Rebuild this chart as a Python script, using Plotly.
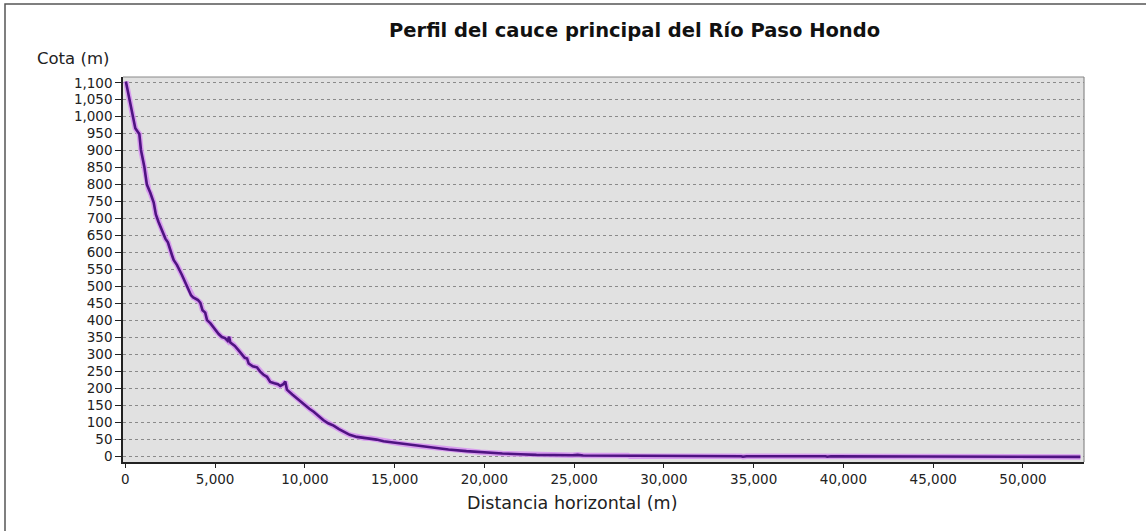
import plotly.graph_objects as go

# Longitudinal profile of the main channel (distance in m, elevation in m)
distancia = [
    30, 240, 460, 555, 700, 780, 870, 1060, 1200, 1300, 1390, 1580, 1700,
    1850, 1950, 2130, 2230, 2370, 2500, 2600, 2690, 2880, 3160, 3430, 3660,
    3780, 3900, 4050, 4180, 4300, 4450, 4550, 4730, 5010, 5200, 5380, 5550,
    5700, 5780, 5850, 6000, 6100, 6310, 6500, 6650, 6780, 6870, 7100, 7330,
    7500, 7700, 7890, 8070, 8300, 8500, 8630, 8800, 8910, 9000, 9300, 9560,
    9800, 10020, 10250, 10490, 10750, 11040, 11300, 11600, 11900, 12160,
    12500, 12900, 13300, 13640, 14000, 14380, 15130, 16000, 16980, 18000,
    19000, 19770, 21000, 22000, 22900, 24900, 25200, 25500, 28000, 28100,
    34300, 34400, 34600, 39000, 39100, 39300, 40200, 40300, 53200,
]
cota = [
    1104, 1050, 1000, 966, 955, 949, 902, 852, 800, 784, 776, 747, 712,
    690, 676, 656, 641, 630, 604, 592, 578, 563, 533, 499, 474,
    468, 465, 460, 452, 430, 423, 401, 392, 371, 360, 351, 348,
    340, 352, 335, 330, 325, 312, 300, 290, 288, 273, 265, 262,
    250, 240, 234, 219, 215, 212, 207, 212, 220, 196, 182, 170,
    158, 150, 140, 131, 118, 106, 97, 90, 80, 72,
    63, 57, 54, 53, 49, 44, 39, 32, 26, 20,
    15, 12, 8, 6, 4, 3, 4, 2, 2, 0,
    0, -1.5, 0, 0, -1.5, 0, 0, -2, -2,
]

y_ticks = list(range(0, 1101, 50))
x_ticks = list(range(0, 50001, 5000))

# plot-area placement in pixels
W, H = 1146, 531
L, R, T, B = 123, 1084, 77, 462
pw, ph = R - L, B - T


def px(xp):
    return (xp - L) / pw


def py(yp):
    return (B - yp) / ph


fig = go.Figure()

# soft halo under the profile line
fig.add_trace(go.Scatter(
    x=distancia, y=cota, mode="lines",
    line=dict(color="rgba(215,150,240,0.9)", width=5.5),
    hoverinfo="skip", showlegend=False,
))
fig.add_trace(go.Scatter(
    x=distancia, y=cota, mode="lines",
    line=dict(color="#4f1382", width=2.6),
    showlegend=False,
))

tick_font = dict(family="DejaVu Sans", size=13.5, color="#222222")

fig.update_layout(
    width=W, height=H,
    margin=dict(l=L, r=W - R, t=T, b=H - B),
    paper_bgcolor="white",
    plot_bgcolor="#e1e1e1",
    xaxis=dict(
        range=[-130, 53400],
        tickmode="array", tickvals=x_ticks,
        ticktext=[f"{v:,}" for v in x_ticks],
        ticks="outside", ticklen=4, tickcolor="#222222", tickwidth=1,
        showgrid=False, zeroline=False,
        showline=True, linecolor="#222222", linewidth=1.5,
        tickfont=tick_font,
    ),
    yaxis=dict(
        range=[-17, 1117],
        tickmode="array", tickvals=y_ticks,
        ticktext=[f"{v:,}" for v in y_ticks],
        ticks="outside", ticklen=6, tickcolor="#222222", tickwidth=1,
        showgrid=True, gridcolor="#8a8a8a", gridwidth=1, griddash="dot",
        zeroline=False,
        showline=True, linecolor="#222222", linewidth=1.5,
        tickfont=tick_font,
    ),
    shapes=[
        # outer frame of the chart
        dict(type="rect", xref="paper", yref="paper",
             x0=px(5), x1=px(1152), y0=py(4), y1=py(540),
             line=dict(color="#555555", width=1.5), fillcolor="rgba(0,0,0,0)",
             layer="below"),
        # top and right border of the plot area
        dict(type="line", xref="paper", yref="paper",
             x0=0, x1=1, y0=1, y1=1, line=dict(color="#8a8a8a", width=1.2)),
        dict(type="line", xref="paper", yref="paper",
             x0=1, x1=1, y0=0, y1=1, line=dict(color="#8a8a8a", width=1.2)),
    ],
    annotations=[
        dict(text="<b>Perfil del cauce principal del Río Paso Hondo</b>",
             xref="paper", yref="paper", x=px(634), y=py(31),
             xanchor="center", yanchor="middle", showarrow=False,
             font=dict(family="DejaVu Sans", size=19.5, color="#111111")),
        dict(text="Cota (m)",
             xref="paper", yref="paper", x=px(35), y=py(58),
             xanchor="left", yanchor="middle", showarrow=False,
             font=dict(family="DejaVu Sans", size=16.5, color="#222222")),
        dict(text="Distancia horizontal (m)",
             xref="paper", yref="paper", x=px(572), y=py(503),
             xanchor="center", yanchor="middle", showarrow=False,
             font=dict(family="DejaVu Sans", size=17.5, color="#222222")),
    ],
)

fig.write_html("out.html")
